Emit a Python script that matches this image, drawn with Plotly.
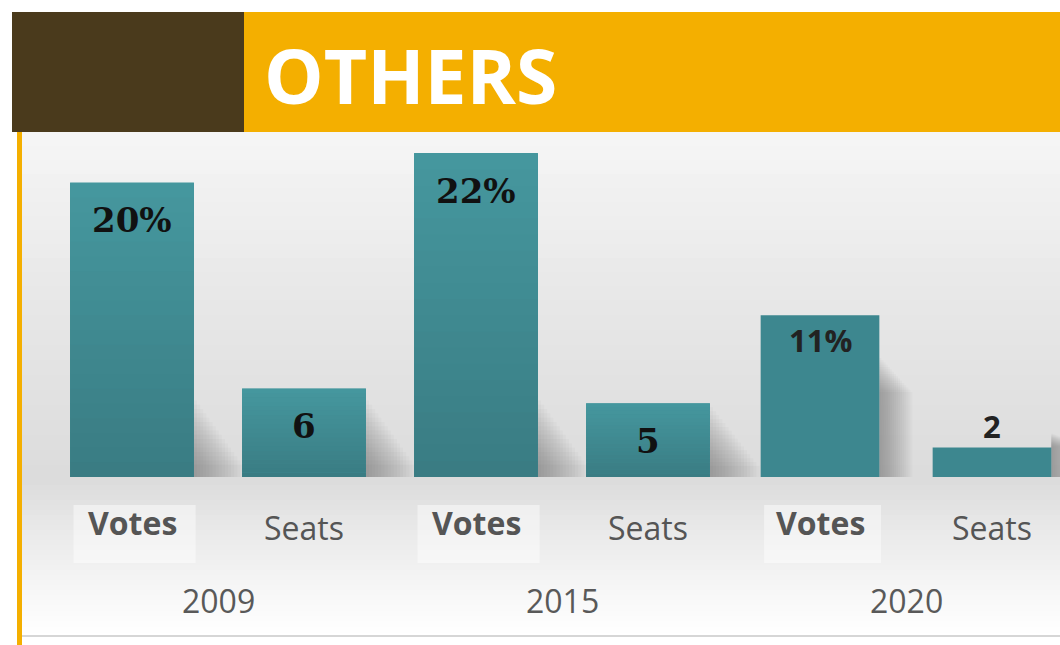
import plotly.graph_objects as go

# ---- data ----
years = ["2009", "2015", "2020"]
kinds = ["Votes", "Seats"]
votes = [20, 22, 11]
seats = [6, 5, 2]
vote_labels = ["20%", "22%", "11%"]
seat_labels = ["6", "5", "2"]
title = "OTHERS"

# ---- layout geometry (pixels) ----
W, H = 1060, 645
L, R, T, B = 22, 1060, 132, 477
UNIT = 172.0
X0 = 132.0
PXY = 14.7


def pxx(px):
    return (px - L) / (R - L)


def pxy(py):
    return (B - py) / (B - T)


# bar list built from data
xs, ys, labels, colors, widths = [], [], [], [], []
for i, yr in enumerate(years):
    for j, k in enumerate(kinds):
        xs.append(2 * i + j)
        ys.append(votes[i] if k == "Votes" else seats[i])
        labels.append(vote_labels[i] if k == "Votes" else seat_labels[i])
        colors.append("#3d878f" if yr == "2020" else "#418d94")
        widths.append(0.69 if yr == "2020" else 0.72)

fig = go.Figure()
fig.add_trace(go.Bar(x=xs, y=ys, width=widths, marker=dict(color=colors, line_width=0),
                     hoverinfo="skip"))

shapes = []
# background gradient (decoration)
stops = [(132, (246, 246, 246)), (300, (232, 232, 232)), (480, (220, 220, 220)),
         (540, (236, 236, 236)), (600, (249, 249, 249)), (632, (255, 255, 255))]
for s in range(len(stops) - 1):
    (p0, c0), (p1, c1) = stops[s], stops[s + 1]
    n = 12
    for k in range(n):
        a = p0 + (p1 - p0) * k / n
        b = p0 + (p1 - p0) * (k + 1) / n
        t = (k + 0.5) / n
        c = tuple(int(c0[m] + (c1[m] - c0[m]) * t) for m in range(3))
        shapes.append(dict(type="rect", xref="paper", yref="paper", x0=0, x1=1,
                           y0=pxy(b + 0.5), y1=pxy(a), line_width=0,
                           fillcolor="rgb(%d,%d,%d)" % c, layer="below"))
# bottom rule
shapes.append(dict(type="line", xref="paper", yref="paper", x0=0, x1=1,
                   y0=pxy(636), y1=pxy(636), line=dict(color="#d6d6d6", width=2), layer="below"))

# soft shadows to the right of bars
for x, v, w in zip(xs, ys, widths):
    xr = x + w / 2
    n = 16
    if years[x // 2] == "2020":
        top = max(v * 0.75, 3.0)
        for k in range(1, n + 1):
            shapes.append(dict(type="rect", xref="x", yref="y", x0=xr, x1=xr + 0.012 * k,
                               y0=0, y1=top * (1 - 0.3 * k / n), line_width=0,
                               fillcolor="rgba(80,80,80,0.035)", layer="below"))
    else:
        top = min(v, 5.5)
        for k in range(1, n + 1):
            shapes.append(dict(type="rect", xref="x", yref="y", x0=xr, x1=xr + 0.018 * k,
                               y0=0, y1=top * (1 - 0.85 * k / n), line_width=0,
                               fillcolor="rgba(90,90,90,0.035)", layer="below"))

# vertical gradient on the 2009 / 2015 bars
ctop, cbot = (70, 152, 159), (58, 124, 131)
for x, v, w in zip(xs, ys, widths):
    if years[x // 2] == "2020":
        continue
    n = 20
    for k in range(n):
        t = (k + 0.5) / n
        c = tuple(int(cbot[m] + (ctop[m] - cbot[m]) * t) for m in range(3))
        shapes.append(dict(type="rect", xref="x", yref="y", x0=x - w / 2, x1=x + w / 2,
                           y0=v * k / n, y1=v * (k + 1) / n + v * 0.002, line_width=0,
                           fillcolor="rgb(%d,%d,%d)" % c, layer="above"))

# light boxes behind "Votes"
for i in range(len(years)):
    x = 2 * i
    w = widths[x]
    shapes.append(dict(type="rect", xref="x", yref="paper", x0=x - w / 2 + 0.02,
                       x1=x + w / 2 + 0.01, y0=pxy(563), y1=pxy(505), line_width=0,
                       fillcolor="rgba(255,255,255,0.45)", layer="below"))

# header
shapes.append(dict(type="rect", xref="paper", yref="paper", x0=pxx(12), x1=pxx(244),
                   y0=pxy(132), y1=pxy(12), line_width=0, fillcolor="#4a3a1c"))
shapes.append(dict(type="rect", xref="paper", yref="paper", x0=pxx(244), x1=pxx(1060),
                   y0=pxy(132), y1=pxy(12), line_width=0, fillcolor="#f4af00"))
# left accent line
shapes.append(dict(type="rect", xref="paper", yref="paper", x0=pxx(17), x1=pxx(22),
                   y0=pxy(645), y1=pxy(132), line_width=0, fillcolor="#f4af00"))

ann = []
ann.append(dict(text="<b>%s</b>" % title, xref="paper", yref="paper", x=pxx(262), y=pxy(75),
                xanchor="left", yanchor="middle", showarrow=False,
                font=dict(family="Open Sans", size=75, color="white")))

for x, v, lab in zip(xs, ys, labels):
    yr = years[x // 2]
    if yr == "2020":
        inside = v > 5
        ann.append(dict(text="<b>%s</b>" % lab, x=x, y=v, xref="x", yref="y",
                        yanchor="middle", showarrow=False,
                        yshift=-25 if inside else 22,
                        font=dict(family="Open Sans", size=31, color="#222222")))
    else:
        ann.append(dict(text="<b>%s</b>" % lab, x=x, y=v, xref="x", yref="y",
                        yanchor="middle", showarrow=False, yshift=-37,
                        font=dict(family="DejaVu Serif", size=34, color="#111111")))

for x in xs:
    k = kinds[x % 2]
    ann.append(dict(text="<b>Votes</b>" if k == "Votes" else "Seats", x=x, y=0,
                    xref="x", yref="y", yanchor="middle", showarrow=False,
                    yshift=-(522 - B) if k == "Votes" else -(527 - B),
                    font=dict(family="Open Sans", size=32, color="#555555")))

for i, yr in enumerate(years):
    ann.append(dict(text=yr, x=2 * i + 0.5, y=0, xref="x", yref="y", yanchor="middle",
                    showarrow=False, yshift=-(600 - B),
                    font=dict(family="Open Sans", size=32, color="#595959")))

fig.update_layout(
    width=W, height=H,
    margin=dict(l=L, r=W - R, t=T, b=H - B, pad=0),
    paper_bgcolor="white", plot_bgcolor="rgba(0,0,0,0)",
    showlegend=False, hovermode=False,
    shapes=shapes, annotations=ann,
    xaxis=dict(range=[(L - X0) / UNIT, (R - X0) / UNIT], visible=False, fixedrange=True),
    yaxis=dict(range=[0, (B - T) / PXY], visible=False, fixedrange=True),
)

fig.write_html("out.html", config={"displayModeBar": False},
               post_script="document.body.style.margin='0';document.body.style.overflow='hidden';")
